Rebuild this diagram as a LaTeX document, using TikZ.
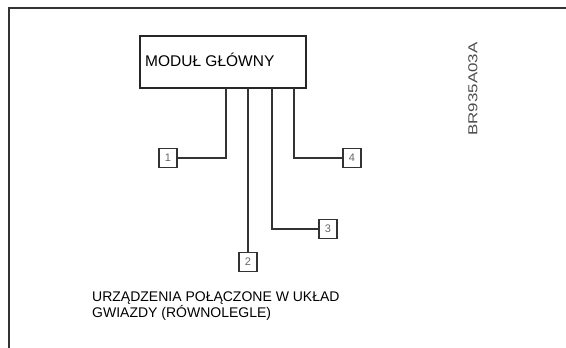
\documentclass[tikz,border=0pt]{standalone}
\usepackage{fontspec}
\setmainfont{Liberation Sans}
\begin{document}
\begin{tikzpicture}[x=1pt,y=-1pt,
  wire/.style={draw=black!80, line width=1.4pt},
  devbox/.style={draw=black!80, line width=1.2pt, minimum width=18pt, minimum height=19pt, inner sep=0pt, font=\fontsize{11}{11}\selectfont, text=black!60},
  mainbox/.style={draw=black!85, line width=1.3pt, minimum width=166pt, minimum height=52pt, inner sep=0pt}
]
\useasboundingbox (0,0) rectangle (566,348);
\draw[black!80, line width=1.6pt] (9,348) -- (9,8) -- (566,8);
\node[mainbox] (main) at (223,62) {};
\node[anchor=west, font=\fontsize{15.5}{15.5}\selectfont, inner sep=0pt] (maintext) at (145,60) {MODUŁ GŁÓWNY};
\node[devbox] (d1) at (168,158) {1};
\node[devbox] (d4) at (352,158) {4};
\node[devbox] (d3) at (328,229) {3};
\node[devbox] (d2) at (248,262) {2};
\coordinate (t1) at (226,88);
\coordinate (t2) at (248,88);
\coordinate (t3) at (272,88);
\coordinate (t4) at (294,88);
\draw[wire] (t1) |- (d1.east);
\draw[wire] (t2) -- (d2.north);
\draw[wire] (t3) |- (d3.west);
\draw[wire] (t4) |- (d4.west);
\node[rotate=90, font=\fontsize{13}{13}\selectfont, text=black!70, inner sep=0pt] (code) at (473,89) {\scalebox{1.3}[1]{BR935A03A}};
\node[anchor=north west, align=left, font=\fontsize{14}{14.5}\selectfont, inner sep=0pt] (caption) at (92,292) {URZĄDZENIA POŁĄCZONE W UKŁAD\\GWIAZDY (RÓWNOLEGLE)};
\end{tikzpicture}
\end{document}
